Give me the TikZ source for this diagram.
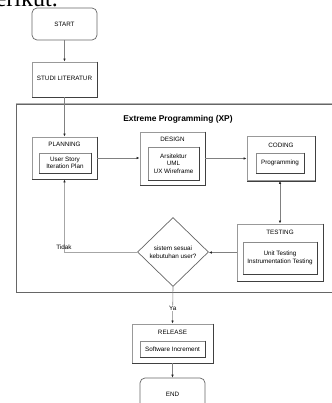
\documentclass[tikz,border=0pt]{standalone}
\usepackage{fontspec}
\setmainfont{Liberation Sans}
\newfontfamily\serifdoc{Liberation Serif}
\usetikzlibrary{arrows.meta,shapes.geometric}
\begin{document}
\begin{tikzpicture}[x=1pt,y=-1pt,
  font=\fontsize{6.3}{7.6}\selectfont,
  outer/.style={draw=black!40, line width=0.9pt, inner sep=0pt, fill=white},
  innerbox/.style={draw=black!45, line width=0.7pt, inner sep=0pt, align=center},
  term/.style={draw=black!60, line width=0.7pt, rounded corners=5pt, inner sep=0pt, fill=white},
  conn/.style={draw=black!50, line width=0.6pt, -{Latex[length=3pt,width=2.6pt,color=black!85]}},
  lbl/.style={inner sep=0pt, align=center},
  edgedark/.style={draw=black!75, line width=0.8pt}
]
\useasboundingbox (0,0) rectangle (331,403);

% running text above the figure
\node[anchor=base east, inner sep=0pt, font=\serifdoc\fontsize{24}{28}\selectfont] (txt) at (58,6.5) {berikut.};

% XP frame
\node[draw=black!60, line width=0.8pt, inner sep=0pt, minimum width=324pt, minimum height=188pt] (xp) at (178,198) {};
\draw[draw=black!30, line width=0.8pt] (xp.north west) -- (xp.north east);
\node[lbl, font=\bfseries\fontsize{8.4}{10}\selectfont] (title) at (178,119) {Extreme Programming (XP)};

% START / STUDI
\node[term, minimum width=65pt, minimum height=32pt] (start) at (64.5,24) {START};
\node[outer, minimum width=65pt, minimum height=35pt] (studi) at (64.5,79.5) {};
\node[lbl] (studit) at (64.5,78) {STUDI LITERATUR};

% PLANNING
\node[outer, minimum width=65pt, minimum height=42pt] (plan) at (64.5,158) {};
\node[lbl] (plant) at (64.5,144.5) {PLANNING};
\node[innerbox, minimum width=52pt, minimum height=20pt] (plani) at (65,163) {User Story\\Iteration Plan};

% DESIGN
\node[outer, minimum width=65pt, minimum height=53pt] (des) at (172.5,158.5) {};
\node[lbl] (dest) at (172.5,139) {DESIGN};
\node[innerbox, minimum width=51pt, minimum height=33pt] (desi) at (173.5,163.5) {Arsitektur\\UML\\UX Wireframe};

% CODING
\node[outer, minimum width=68pt, minimum height=44pt] (cod) at (281,158.5) {};
\node[lbl] (codt) at (281,145) {CODING};
\node[innerbox, minimum width=48pt, minimum height=20pt] (codi) at (280,163) {Programming};

% TESTING
\node[outer, minimum width=86pt, minimum height=57pt] (tst) at (280,252.5) {};
\node[lbl] (tstt) at (280,232.5) {TESTING};
\node[innerbox, minimum width=74pt, minimum height=32pt] (tsti) at (280,258) {Unit Testing\\Instrumentation Testing};

% decision
\node[diamond, draw=black!60, line width=0.7pt, inner sep=0pt, minimum width=71pt, minimum height=69pt, align=center, fill=white] (dia) at (173,252) {sistem sesuai\\kebutuhan user?};

% RELEASE
\node[outer, minimum width=81pt, minimum height=39pt] (rel) at (172.5,343.5) {};
\node[lbl] (relt) at (172.5,332.5) {RELEASE};
\node[innerbox, minimum width=65pt, minimum height=16pt] (reli) at (172.5,349) {Software Increment};

% END
\node[term, minimum width=65pt, minimum height=32pt] (end) at (172.5,394) {};
\node[lbl] (endt) at (172.5,394) {END};

% darker right/bottom edges
\foreach \n in {studi,plan,plani,des,desi,cod,codi,tst,tsti,rel,reli}
  \draw[edgedark] (\n.north east) -- (\n.south east) -- (\n.south west);

% connectors
\draw[conn] (start) -- (studi);
\draw[conn] (studi) -- (plan);
\draw[conn] (plan.east) -- (plan.east -| des.west);
\draw[conn] (des.east) -- (des.east -| cod.west);
\draw[conn, {Latex[length=3pt,width=2.6pt,color=black!85]}-{Latex[length=3pt,width=2.6pt,color=black!85]}] (tst.north |- cod.south) -- (tst.north);
\draw[conn] (tst.west) -- (tst.west -| dia.east);
\draw[conn, draw=black!35] (dia.west) -| (plan.south);
\node[lbl] (tidak) at (64,247) {Tidak};
\draw[conn] (dia.south) -- node[pos=0.58, fill=white, inner sep=1pt] (ya) {Ya} (rel.north);
\draw[conn] (rel) -- (end);
\end{tikzpicture}
\end{document}
